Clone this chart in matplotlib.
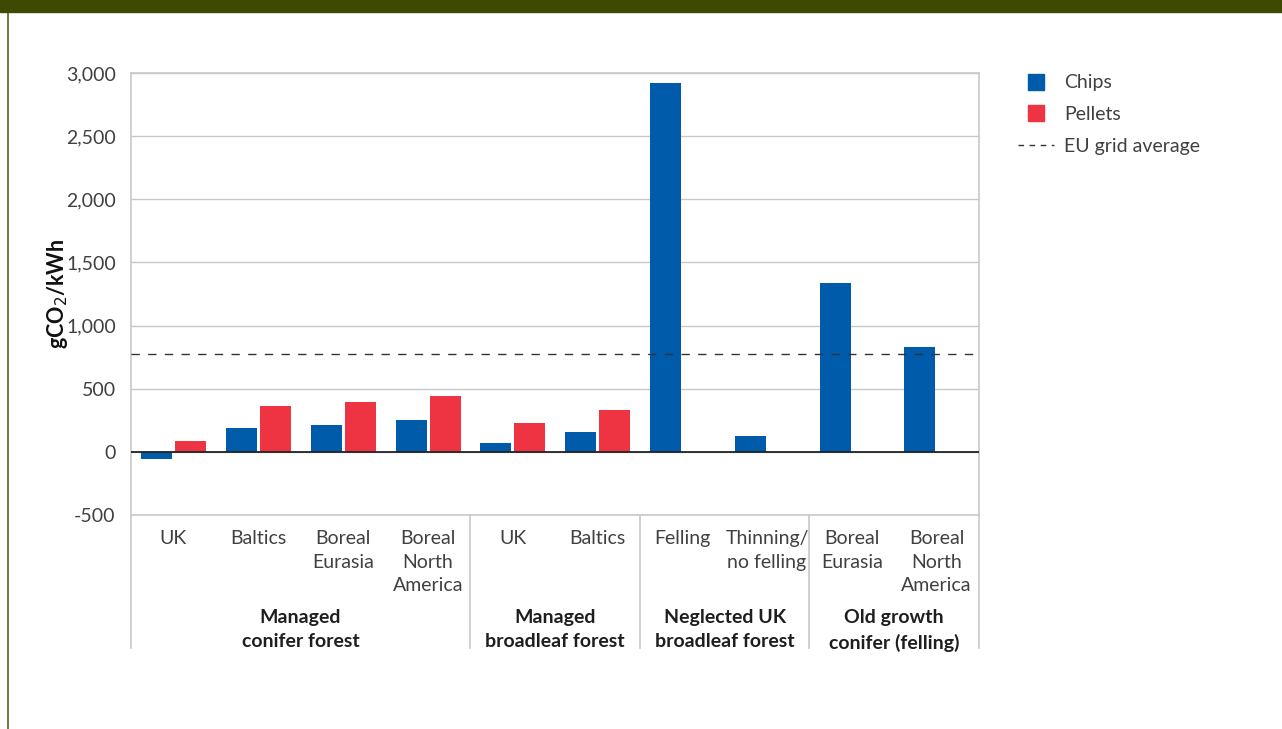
import matplotlib.pyplot as plt
import numpy as np
from matplotlib.lines import Line2D
from matplotlib.patches import Rectangle

# data
categories = ["UK", "Baltics", "Boreal\nEurasia", "Boreal\nNorth\nAmerica",
              "UK", "Baltics", "Felling", "Thinning/\nno felling",
              "Boreal\nEurasia", "Boreal\nNorth\nAmerica"]
chips = [-55, 190, 214, 253, 71, 158, 2924, 127, 1339, 832]
pellets = [87, 365, 396, 443, 230, 333, np.nan, np.nan, np.nan, np.nan]
eu_grid = 776
groups = ["Managed\nconifer forest", "Managed\nbroadleaf forest",
          "Neglected UK\nbroadleaf forest", "Old growth\nconifer (felling)"]
group_sizes = [4, 2, 2, 2]
yticks = [-500, 0, 500, 1000, 1500, 2000, 2500, 3000]

BLUE = "#005BAB"
RED = "#EE3342"
GREEN = "#3E4A00"
GRID = "#C8C8C8"
TXT = "#404040"

plt.rcParams['font.family'] = ['Lato', 'DejaVu Sans']

W, H = 1282, 729
fig = plt.figure(figsize=(W / 100, H / 100), dpi=100)
ax = fig.add_axes([131 / W, 1 - 515 / H, (979 - 131) / W, (515 - 73) / H])

x = np.arange(len(categories))
bw = 0.366
ax.bar(x - 0.197, chips, bw, color=BLUE, zorder=3)
ax.bar(x + 0.204, pellets, bw, color=RED, zorder=3)
ax.axhline(0, color="#222222", lw=1.3, zorder=4)
ax.axhline(eu_grid, color="#333333", lw=1.0, ls=(0, (6, 6)), zorder=5)

ax.set_xlim(-0.5, len(categories) - 0.5)
ax.set_ylim(-500, 3000)
ax.set_yticks(yticks)
ax.set_yticklabels([f"{v:,}" for v in yticks], fontsize=14, color=TXT)
ax.yaxis.grid(True, color=GRID, lw=1.0, zorder=0)
ax.tick_params(axis='y', length=0, pad=11)
ax.set_xticks(x)
ax.set_xticklabels(categories, fontsize=14, color=TXT, linespacing=1.45, va='top')
ax.tick_params(axis='x', length=0, pad=11)
for s in ax.spines.values():
    s.set_color(GRID)
    s.set_linewidth(1.2)

ax.set_ylabel("gCO$_2$/kWh", fontsize=15.5, fontweight='bold', color="#111111", labelpad=-3)

# group separators below the axis
ext = -(648 - 515) / (515 - 73)
bounds = np.concatenate([[0], np.cumsum(group_sizes)]) - 0.5
for b in bounds:
    ax.axvline(b, ymin=ext, ymax=0, color=GRID, lw=1.2, clip_on=False)

trans = ax.get_xaxis_transform()
for g, lo, hi in zip(groups, bounds[:-1], bounds[1:]):
    ax.text((lo + hi) / 2, -(609 - 515) / (515 - 73), g, transform=trans, ha='center', va='top',
            fontsize=14, fontweight='bold', color="#1E1E1E", linespacing=1.5)

handles = [Line2D([], [], marker='s', ls='none', color=BLUE, markersize=11),
           Line2D([], [], marker='s', ls='none', color=RED, markersize=11),
           Line2D([], [], color="#333333", lw=1.0, ls=(0, (4, 4)))]
leg = fig.legend(handles, ["Chips", "Pellets", "EU grid average"], loc='upper left',
                 bbox_to_anchor=(1000 / W, 1 - 57 / H), frameon=False, fontsize=14,
                 labelspacing=0.75, handlelength=1.9, handletextpad=0.5)
for t in leg.get_texts():
    t.set_color(TXT)

# page banner and border
fig.patches.append(Rectangle((0, 1 - 12 / H), 1, 12 / H, transform=fig.transFigure,
                             color=GREEN, zorder=10))
fig.lines.append(Line2D([7.5 / W, 7.5 / W], [0, 1], transform=fig.transFigure,
                        color="#5A6420", lw=1.2))

fig.savefig("out.png", dpi=100)
